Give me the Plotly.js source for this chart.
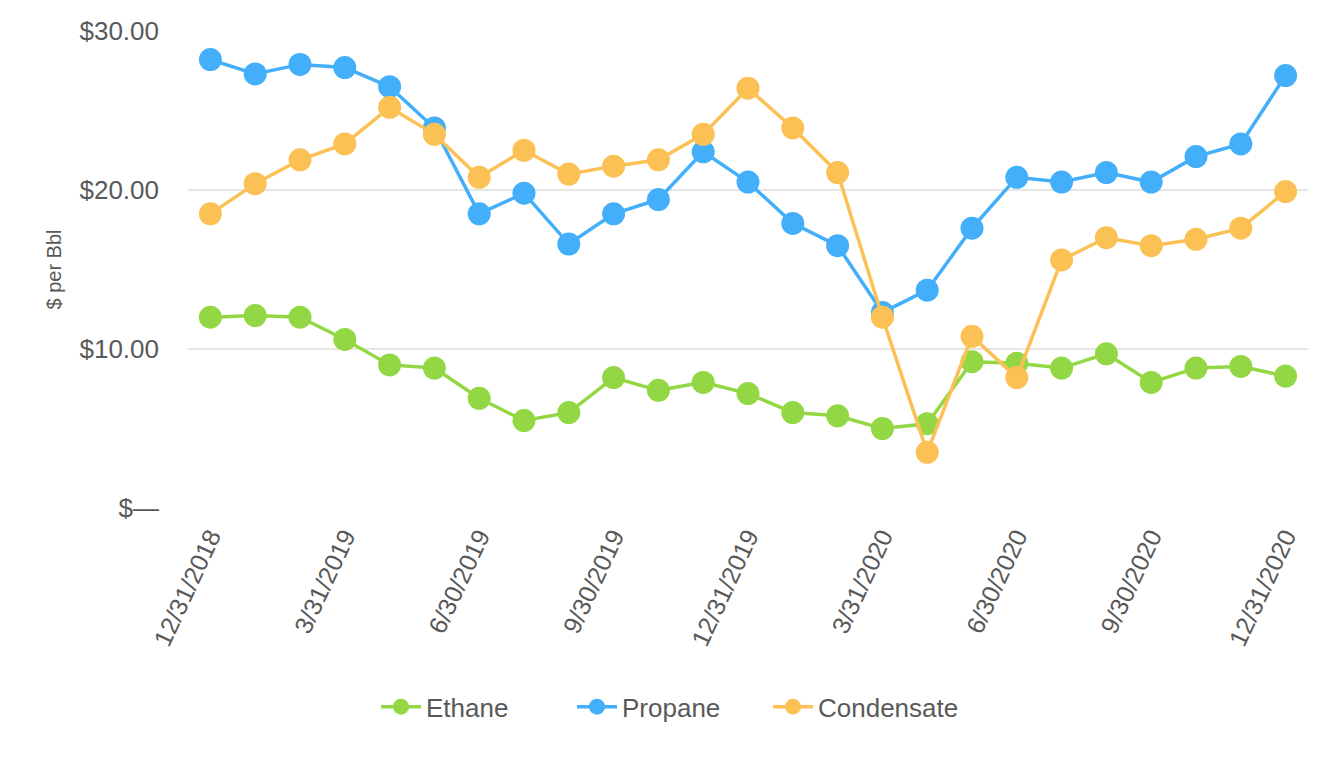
<!DOCTYPE html>
<html>
<head>
<meta charset="utf-8">
<script src="https://cdn.plot.ly/plotly-3.0.1.min.js"></script>
<style>html,body{margin:0;padding:0;background:#fff;}#chart{width:1340px;height:760px;}</style>
</head>
<body>
<div id="chart"></div>
<script>
const dates = ["12/31/2018","1/31/2019","2/28/2019","3/31/2019","4/30/2019","5/31/2019","6/30/2019","7/31/2019","8/31/2019","9/30/2019","10/31/2019","11/30/2019","12/31/2019","1/31/2020","2/29/2020","3/31/2020","4/30/2020","5/31/2020","6/30/2020","7/31/2020","8/31/2020","9/30/2020","10/31/2020","11/30/2020","12/31/2020"];
const ethane = [12.0,12.1,12.0,10.6,9.0,8.8,6.9,5.5,6.0,8.2,7.4,7.9,7.2,6.0,5.8,5.0,5.3,9.2,9.1,8.8,9.7,7.9,8.8,8.9,8.3];
const propane = [28.2,27.3,27.9,27.7,26.5,23.9,18.5,19.8,16.6,18.5,19.4,22.4,20.5,17.9,16.5,12.3,13.7,17.6,20.8,20.5,21.1,20.5,22.1,22.9,27.2];
const condensate = [18.5,20.4,21.9,22.9,25.2,23.5,20.8,22.5,21.0,21.5,21.9,23.5,26.4,23.9,21.1,12.0,3.5,10.8,8.2,15.6,17.0,16.5,16.9,17.6,19.9];
const xTickLabels = ["12/31/2018","3/31/2019","6/30/2019","9/30/2019","12/31/2019","3/31/2020","6/30/2020","9/30/2020","12/31/2020"];
const yTickVals = [0,10,20,30];
const yTickLabels = ["$—","$10.00","$20.00","$30.00"];

function tr(name, y, color){
  return {x: dates, y: y, name: name, type: 'scatter', mode: 'lines+markers',
    line: {color: color, width: 3.5}, marker: {color: color, size: 23},
    cliponaxis: false};
}
const data = [tr('Ethane', ethane, '#93d844'), tr('Propane', propane, '#43affa'), tr('Condensate', condensate, '#fbc154')];
const layout = {
  width: 1340, height: 760,
  margin: {l: 188, r: 32, t: 31, b: 252},
  paper_bgcolor: '#fff', plot_bgcolor: '#fff',
  font: {family: 'Liberation Sans, Arial, sans-serif', color: '#595959', size: 25},
  xaxis: {type: 'category', range: [-0.5, 24.5], tickmode: 'array', tickvals: xTickLabels, ticktext: xTickLabels,
    tickangle: -65, showgrid: false, zeroline: false, showline: false, ticks: '', tickfont: {size: 25, color: '#595959'},
    ticklabelstandoff: 8, automargin: false},
  yaxis: {range: [0, 30], tickmode: 'array', tickvals: yTickVals, ticktext: yTickLabels,
    gridcolor: '#e6e6e6', gridwidth: 2, zeroline: false, showline: false, ticks: '', ticklen: 0,
    tickfont: {size: 26, color: '#595959'}, ticklabelstandoff: 28, automargin: true,
    title: {text: '$ per Bbl', font: {size: 20, color: '#595959'}, standoff: 12}},
  showlegend: true,
  legend: {orientation: 'h', xref: 'container', yref: 'container', x: 0.5, xanchor: 'center', y: 0.07, yanchor: 'middle',
    font: {size: 26, color: '#595959'}, itemwidth: 40, traceorder: 'normal', entrywidth: 141, entrywidthmode: 'pixels'},
};
Plotly.newPlot('chart', data, layout, {displayModeBar: false});
</script>
</body>
</html>
